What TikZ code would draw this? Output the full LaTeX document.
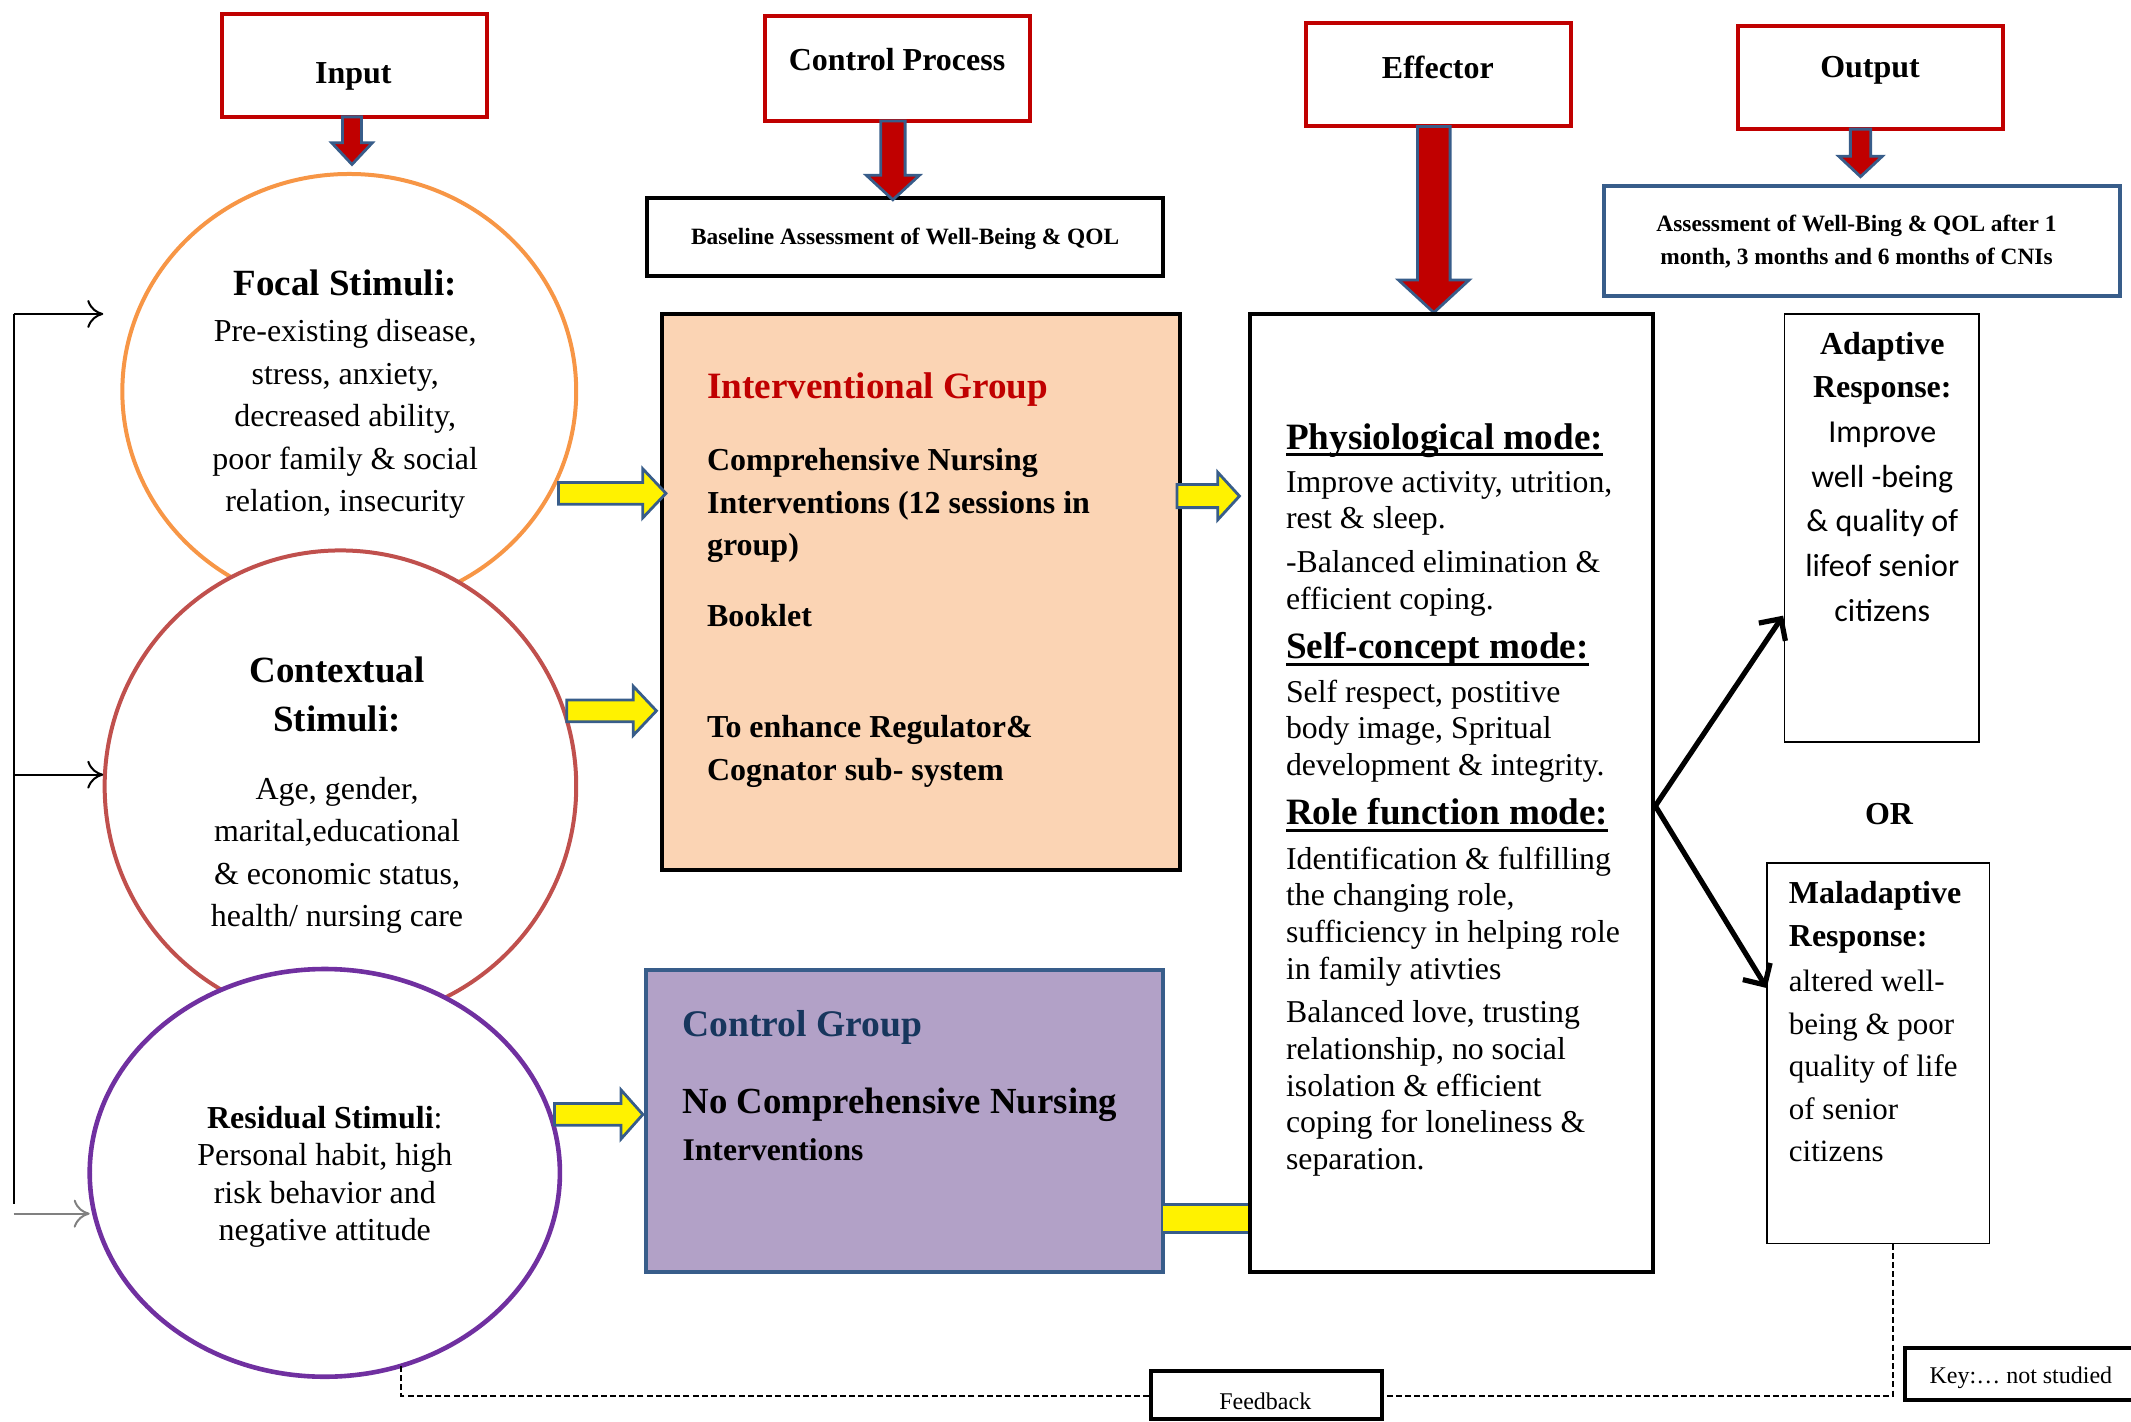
\documentclass[tikz,border=0pt]{standalone}
\usepackage{fontspec}
\setmainfont{Liberation Serif}
\newfontfamily\calibri{Carlito}
\usetikzlibrary{shapes.geometric,fit,arrows.meta}
\definecolor{boxred}{HTML}{C00000}
\definecolor{arrblue}{HTML}{385D8A}
\definecolor{focalc}{HTML}{F79646}
\definecolor{contc}{HTML}{C0504D}
\definecolor{resc}{HTML}{7030A0}
\definecolor{peach}{HTML}{FBD4B4}
\definecolor{lilac}{HTML}{B2A1C7}
\definecolor{navy}{HTML}{17365D}
\newcommand\fs[2]{\fontsize{#1}{#2}\selectfont}
\newcommand\ulhead[1]{\setbox0\hbox{#1}\rlap{\rule[-3.6pt]{\wd0}{1.4pt}}\box0}
\newcommand\darr[6]{%
  \filldraw[blockarr, fill=boxred] (#1-#4,#2) -- (#1-#4,#3-#6) -- (#1-#5,#3-#6) -- (#1,#3) -- (#1+#5,#3-#6) -- (#1+#4,#3-#6) -- (#1+#4,#2) -- cycle;}
\newcommand\rarr[6]{%
  \filldraw[blockarr, fill=yellow] (#2,#1-#4) -- (#3-#6,#1-#4) -- (#3-#6,#1-#5) -- (#3,#1) -- (#3-#6,#1+#5) -- (#3-#6,#1+#4) -- (#2,#1+#4) -- cycle;}
\begin{document}
\begin{tikzpicture}[x=0.68pt,y=-0.68pt,
  redbox/.style={draw=boxred, line width=2pt, inner sep=0pt},
  blackbox/.style={draw=black, line width=2pt, inner sep=0pt},
  thinbox/.style={draw=black, line width=0.8pt, inner sep=0pt},
  bluebox/.style={draw=arrblue, line width=2pt, inner sep=0pt},
  blockarr/.style={draw=arrblue, line width=1.4pt, line join=miter},
  txt/.style={inner sep=0pt, align=center, yshift=-1.3pt},
  ltxt/.style={inner sep=0pt, align=left, anchor=west, yshift=-1.3pt},
  oval/.style={ellipse, inner sep=0pt, fill=white},
  fbline/.style={line width=1pt, -{To[length=8pt,width=14pt]}},
  resparrow/.style={line width=2.6pt, -{Straight Barb[length=8pt,width=16pt]}},
  notstudied/.style={line width=0.9pt, dash pattern=on 3pt off 1.6pt}
]
\useasboundingbox (0,0) rectangle (1568,1046);

% ---------- top header boxes ----------
\node[redbox, fit={(163,10) (358,86)}] (inputbox) {};
\node[txt, font=\fs{16}{19}\bfseries] (inputlbl) at (260,54) {Input};
\node[redbox, fit={(563,12) (758,89)}] (cpbox) {};
\node[txt, font=\fs{16}{19}\bfseries] (cplbl) at (660,42) {Control Process};
\node[redbox, fit={(961,17) (1156,93)}] (effhead) {};
\node[txt, font=\fs{16}{19}\bfseries] (efflbl) at (1058,48) {Effector};
\node[redbox, fit={(1279,19) (1474,95)}] (outbox) {};
\node[txt, font=\fs{16}{19}\bfseries] (outlbl) at (1376,50) {Output};

% ---------- assessment boxes ----------
\node[blackbox, fit={(476,146) (856,203)}] (baseline) {};
\node[txt, font=\fs{11.7}{14}\bfseries] (baselbl) at (666,174) {Baseline Assessment of Well-Being \& QOL};
\node[bluebox, fit={(1180,137) (1560,218)}] (assess) {};
\node[txt, font=\fs{11.7}{16.3}\bfseries] (assesslbl) at (1366,176) {Assessment of Well-Bing \& QOL after 1\\month, 3 months and 6 months of CNIs};

% ---------- red down arrows ----------
\darr{259}{86}{121}{7}{15}{16}
\darr{657}{89}{147}{9}{19.5}{18}
\darr{1055}{93}{230}{12}{26}{24}
\darr{1369}{95}{130}{7.5}{16}{15}

% ---------- stimuli ovals ----------
\node[oval, draw=focalc, line width=2pt, minimum width=334*0.68pt, minimum height=320*0.68pt] (focal) at (257,288) {};
\node[oval, draw=contc, line width=2pt, minimum width=347*0.68pt, minimum height=347*0.68pt] (contextual) at (250.5,578.5) {};
\node[oval, draw=resc, line width=2.3pt, minimum width=346*0.68pt, minimum height=300*0.68pt] (residual) at (239,863) {};

\node[txt, font=\fs{18.5}{22}\bfseries] (focalhd) at (254,206) {Focal Stimuli:};
\node[txt, font=\fs{16}{21.25}] (focalbody) at (254,306.5) {Pre-existing disease,\\stress, anxiety,\\decreased ability,\\poor family \& social\\relation, insecurity};
\node[txt, font=\fs{18.5}{24.5}\bfseries] (conthd) at (248,509) {Contextual\\Stimuli:};
\node[txt, font=\fs{16}{21.1}] (contbody) at (248,627.5) {Age, gender,\\marital,educational\\\& economic status,\\health/ nursing care};
\node[txt, font=\fs{16}{18.6}] (resbody) at (239,864) {\textbf{Residual Stimuli}:\\Personal habit, high\\risk behavior and\\negative attitude};

% ---------- feedback lines on the left ----------
\coordinate (fbtop) at (10,231);
\coordinate (fbmid) at (10,570);
\coordinate (fbbot) at (10,886);
\coordinate (focalin) at (76,231);
\coordinate (contin) at (76,570);
\draw[line width=1pt] (fbtop) -- (fbbot);
\draw[fbline] (fbtop) -- (focalin);
\draw[fbline] (fbmid) -- (contin);
\coordinate (resfrom) at (10,893);
\coordinate (resin) at (66,893);
\draw[fbline, draw=gray] (resfrom) -- (resin);

% ---------- interventional group ----------
\node[blackbox, fill=peach, fit={(487,231) (868,640)}] (interv) {};
\node[ltxt, font=\fs{18.6}{21}\bfseries, text=boxred] (intervhd) at (520,285) {Interventional Group};
\node[ltxt, font=\fs{16}{21.1}\bfseries] (intervp1) at (520,370) {Comprehensive Nursing\\Interventions (12 sessions in\\group)};
\node[ltxt, font=\fs{16}{21}\bfseries] (booklet) at (520,451) {Booklet};
\node[ltxt, font=\fs{16}{21.8}\bfseries] (intervp2) at (520,551) {To enhance Regulator\&\\Cognator sub- system};

% ---------- control group ----------
\node[bluebox, fill=lilac, fit={(475,714) (856,936)}] (control) {};
\node[ltxt, font=\fs{18.8}{22}\bfseries, text=navy] (controlhd) at (502,754) {Control Group};
\node[ltxt, font=\fs{18.4}{21}\bfseries] (controlp1) at (502,811) {No Comprehensive Nursing};
\node[ltxt, font=\fs{15.8}{19}\bfseries] (controlp2) at (502,844) {Interventions};

% ---------- yellow arrows ----------
\rarr{363}{411}{490}{8}{18}{17}
\rarr{523}{417}{483}{8}{18}{17}
\rarr{820}{408}{473}{8}{18}{16}
\rarr{365}{866}{912}{8.5}{17.5}{16}
\filldraw[blockarr, fill=yellow] (855,886) rectangle (920,907);

% ---------- effector box ----------
\node[blackbox, fit={(920,231) (1216,936)}] (effbox) {};
\node[ltxt, font=\fs{18.6}{22}\bfseries] (physhd) at (946,322) {\ulhead{Physiological mode:}};
\node[ltxt, font=\fs{15.9}{18.4}] (physa) at (946,368.5) {Improve activity, utrition,\\rest \& sleep.};
\node[ltxt, font=\fs{15.9}{18.4}] (physb) at (946,427.5) {-Balanced elimination \&\\efficient coping.};
\node[ltxt, font=\fs{18.6}{22}\bfseries] (selfhd) at (946,476) {\ulhead{Self-concept mode:}};
\node[ltxt, font=\fs{15.9}{18.4}] (selfp) at (946,536) {Self respect, postitive\\body image, Spritual\\development \& integrity.};
\node[ltxt, font=\fs{18.6}{22}\bfseries] (rolehd) at (946,598) {\ulhead{Role function mode:}};
\node[ltxt, font=\fs{15.9}{18.4}] (rolep) at (946,672.5) {Identification \& fulfilling\\the changing role,\\sufficiency in helping role\\in family ativties};
\node[ltxt, font=\fs{15.9}{18.4}] (lovep) at (946,799) {Balanced love, trusting\\relationship, no social\\isolation \& efficient\\coping for loneliness \&\\separation.};

% ---------- responses ----------
\node[thinbox, fit={(1313,231) (1456,546)}] (adapt) {};
\node[txt, font=\fs{16}{21.8}\bfseries] (adapthd) at (1385,269) {Adaptive\\Response:};
\node[txt, font=\calibri\fs{16}{22.4}] (adaptbody) at (1385,382) {Improve\\well -being\\\& quality of\\lifeof senior\\citizens};
\node[txt, font=\fs{16}{19}\bfseries] (orlbl) at (1390,597) {OR};
\node[thinbox, fit={(1300,635) (1464,915)}] (malad) {};
\node[ltxt, font=\fs{16}{21.8}\bfseries] (maladhd) at (1316,673) {Maladaptive\\Response:};
\node[ltxt, font=\fs{15.5}{21.25}] (maladbody) at (1316,782.5) {altered well-\\being \& poor\\quality of life\\of senior\\citizens};

\coordinate (split) at (1218,593);
\coordinate (adaptin) at (1312,453);
\coordinate (maladin) at (1300,727);
\draw[resparrow] (split) -- (adaptin);
\draw[resparrow] (split) -- (maladin);

% ---------- feedback / key ----------
\node[blackbox, fit={(847,1009) (1017,1044)}] (feedback) {};
\node[txt, font=\fs{12}{14}] (fblbl) at (931,1029) {Feedback};
\node[blackbox, fit={(1402,992) (1590,1030)}] (keybox) {};
\node[txt, font=\fs{12}{14}] (keylbl) at (1487,1012) {Key:… not studied};

\coordinate (maladbot) at (1393,915);
\coordinate (fbcornerR) at (1393,1027);
\coordinate (fbcornerL) at (295,1027);
\coordinate (resbot) at (295,1004);
\draw[notstudied] (maladbot) -- (fbcornerR) -- (feedback.east |- fbcornerR);
\draw[notstudied] (feedback.west |- fbcornerL) -- (fbcornerL) -- (resbot);
\end{tikzpicture}
\end{document}
